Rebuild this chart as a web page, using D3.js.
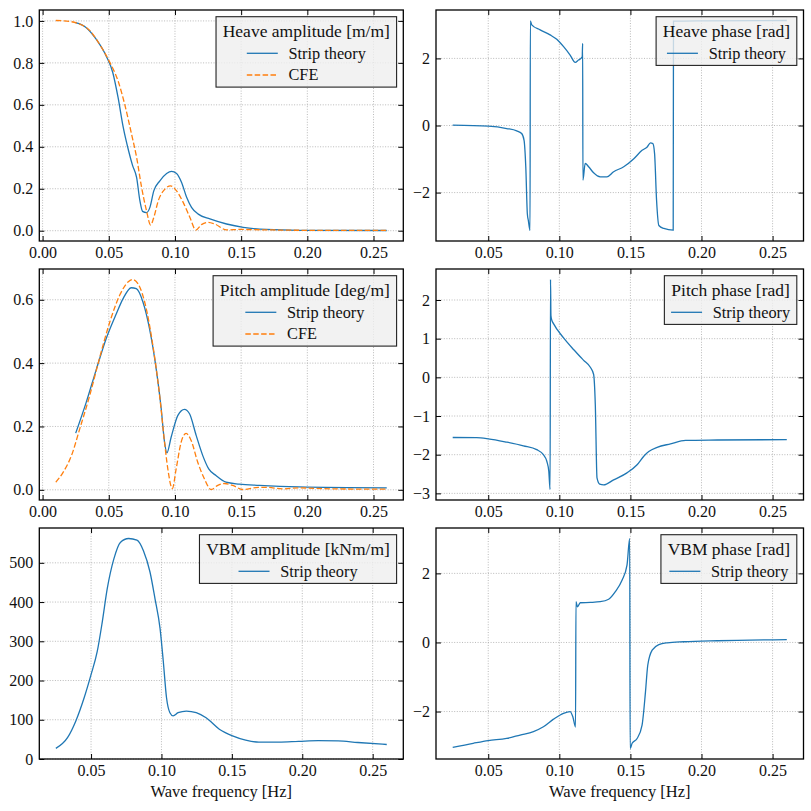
<!DOCTYPE html>
<html>
<head>
<meta charset="utf-8">
<script src="https://cdnjs.cloudflare.com/ajax/libs/d3/7.8.5/d3.min.js"></script>
<style>
body { margin: 0; background: #fff; }
svg { display: block; font-family: "Liberation Serif", "Times New Roman", serif; }
</style>
</head>
<body>
<script>
// ---- data (frequency in Hz) ----
var heaveAmpStripF = [0.025, 0.033, 0.041, 0.048, 0.053, 0.057, 0.061, 0.065, 0.068, 0.071, 0.0735, 0.0755, 0.0785, 0.081, 0.084, 0.0886, 0.0937, 0.0974, 0.1012, 0.105, 0.1088, 0.1125, 0.1176, 0.1264, 0.139, 0.1516, 0.169, 0.194, 0.26];
var heaveAmpStrip  = [0.992, 0.968, 0.908, 0.833, 0.754, 0.635, 0.49, 0.38, 0.31, 0.254, 0.143, 0.092, 0.086, 0.11, 0.19, 0.238, 0.273, 0.283, 0.273, 0.23, 0.159, 0.111, 0.079, 0.056, 0.032, 0.016, 0.006, 0.002, 0.001];
var heaveAmpCfeF = [0.01, 0.015, 0.02, 0.0257, 0.036, 0.043, 0.051, 0.057, 0.062, 0.0672, 0.071, 0.0748, 0.0785, 0.0816, 0.084, 0.0874, 0.0924, 0.0967, 0.1012, 0.1062, 0.1113, 0.1158, 0.12, 0.125, 0.13, 0.139, 0.149, 0.169, 0.2, 0.26];
var heaveAmpCfe  = [1.002, 1.001, 0.998, 0.99, 0.952, 0.889, 0.80, 0.714, 0.603, 0.46, 0.35, 0.206, 0.095, 0.027, 0.063, 0.143, 0.198, 0.214, 0.19, 0.135, 0.063, 0.003, 0.029, 0.04, 0.032, 0.004, 0.006, 0.004, 0.002, 0.002];

var heavePhaseF = [0.025, 0.05, 0.063, 0.07, 0.0735, 0.0752, 0.0764, 0.0775, 0.0782, 0.0794, 0.0796, 0.0806, 0.0865, 0.0935, 0.0982, 0.103, 0.1076, 0.1112, 0.1135, 0.1152, 0.1161, 0.1164, 0.1166, 0.1182, 0.1206, 0.1241, 0.1288, 0.1335, 0.1382, 0.1453, 0.1524, 0.1582, 0.1618, 0.1641, 0.1658, 0.167, 0.1684, 0.17, 0.1735, 0.1801, 0.1803, 0.2, 0.26];
var heavePhase  = [0.01, -0.02, -0.09, -0.16, -0.24, -0.44, -1.23, -2.63, -2.83, -3.13, 3.12, 3.0, 2.85, 2.7, 2.57, 2.35, 2.1, 1.88, 1.95, 2.0, 2.05, 2.45, -1.63, -1.13, -1.23, -1.41, -1.53, -1.53, -1.38, -1.23, -0.99, -0.74, -0.64, -0.52, -0.54, -0.84, -2.23, -2.98, -3.07, -3.12, 3.11, 3.12, 3.13];

var pitchAmpStripF = [0.025, 0.033, 0.0407, 0.048, 0.0557, 0.0607, 0.067, 0.0708, 0.0758, 0.0808, 0.0858, 0.0896, 0.0921, 0.0939, 0.0971, 0.1022, 0.1072, 0.111, 0.116, 0.121, 0.1255, 0.131, 0.1386, 0.1486, 0.1637, 0.1938, 0.26];
var pitchAmpStrip  = [0.179, 0.277, 0.382, 0.477, 0.556, 0.603, 0.638, 0.635, 0.593, 0.508, 0.382, 0.256, 0.151, 0.117, 0.166, 0.235, 0.254, 0.24, 0.172, 0.108, 0.066, 0.045, 0.024, 0.018, 0.014, 0.009, 0.006];
var pitchAmpCfeF = [0.01, 0.0156, 0.0218, 0.0281, 0.0356, 0.0432, 0.0507, 0.0582, 0.0645, 0.0678, 0.072, 0.0783, 0.0833, 0.0884, 0.0921, 0.0946, 0.098, 0.1009, 0.1047, 0.1084, 0.1122, 0.1172, 0.1222, 0.1273, 0.1323, 0.1373, 0.1436, 0.1511, 0.1611, 0.1687, 0.1812, 0.1938, 0.2189, 0.26];
var pitchAmpCfe  = [0.024, 0.056, 0.108, 0.193, 0.298, 0.419, 0.529, 0.614, 0.656, 0.664, 0.651, 0.572, 0.456, 0.298, 0.151, 0.066, 0.004, 0.066, 0.151, 0.178, 0.156, 0.087, 0.035, 0.001, 0.014, 0.02, 0.014, 0.001, 0.007, 0.008, 0.003, 0.006, 0.003, 0.002];

var pitchPhaseF = [0.025, 0.0418, 0.05, 0.0629, 0.0747, 0.0841, 0.0888, 0.0912, 0.0926, 0.0935, 0.0938, 0.0941, 0.0947, 0.0959, 0.103, 0.11, 0.1171, 0.1218, 0.1241, 0.1253, 0.1265, 0.1284, 0.1312, 0.1382, 0.1476, 0.1547, 0.1594, 0.1629, 0.1688, 0.1782, 0.1888, 0.2112, 0.26];
var pitchPhase  = [-1.555, -1.56, -1.59, -1.675, -1.77, -1.87, -2.0, -2.17, -2.43, -2.9, 2.53, 1.6, 1.48, 1.39, 1.02, 0.72, 0.44, 0.26, 0.08, -0.7, -2.6, -2.76, -2.78, -2.65, -2.47, -2.26, -2.04, -1.92, -1.81, -1.72, -1.63, -1.62, -1.61];

var vbmAmpF = [0.025, 0.0334, 0.0392, 0.0451, 0.05, 0.0544, 0.058, 0.0615, 0.0662, 0.0708, 0.0767, 0.0826, 0.0872, 0.0919, 0.0954, 0.099, 0.1013, 0.1036, 0.106, 0.1083, 0.1118, 0.1177, 0.1247, 0.1317, 0.1411, 0.1505, 0.1598, 0.1692, 0.1833, 0.1973, 0.2114, 0.2254, 0.2395, 0.26];
var vbmAmp  = [27, 55, 97, 156, 215, 274, 350, 434, 510, 552, 562, 558, 531, 476, 409, 333, 249, 156, 118, 110, 118, 122, 118, 105, 76, 59, 48, 43, 43, 45, 47, 46, 42, 37];

var vbmPhaseF = [0.025, 0.0394, 0.05, 0.0629, 0.0724, 0.0818, 0.0888, 0.0959, 0.1029, 0.1076, 0.1095, 0.1114, 0.1117, 0.1128, 0.1147, 0.1218, 0.1288, 0.1347, 0.1394, 0.1441, 0.1476, 0.1495, 0.1498, 0.1512, 0.1547, 0.1582, 0.1606, 0.1622, 0.1653, 0.17, 0.1759, 0.1876, 0.2112, 0.26];
var vbmPhase  = [-3.04, -2.92, -2.84, -2.78, -2.68, -2.58, -2.44, -2.22, -2.05, -2.0, -2.15, -2.45, 1.18, 1.03, 1.15, 1.16, 1.18, 1.25, 1.47, 1.8, 2.24, 3.01, -3.07, -2.92, -2.78, -2.39, -1.43, -0.66, -0.22, -0.06, -0.01, 0.02, 0.05, 0.08];

// tick values
var xTicksWide = [0, 0.05, 0.1, 0.15, 0.2, 0.25];
var xTicksNarrow = [0.05, 0.1, 0.15, 0.2, 0.25];
var heaveAmpTicks = [0, 0.2, 0.4, 0.6, 0.8, 1.0];
var pitchAmpTicks = [0, 0.2, 0.4, 0.6];
var vbmAmpTicks = [0, 100, 200, 300, 400, 500];
var phaseTicks2 = [-2, 0, 2];
var pitchPhaseTicks = [-3, -2, -1, 0, 1, 2];

var blue = '#1f77b4', orange = '#ff7f0e';

var svg = d3.select('body').append('svg:svg')
    .attr('width', 811)
    .attr('height', 811);

var cols = [[39.3, 403.3], [436, 803.5]];
var rows = [[10, 241], [269, 500], [528, 759]];

function padExtent(lo, hi) {
    var d = (hi - lo) * 0.05;
    return [lo - d, hi + d];
}

function drawPanel(o) {
    var x0 = cols[o.col][0], x1 = cols[o.col][1];
    var y0 = rows[o.row][0], y1 = rows[o.row][1];
    var allX = [], allY = [];
    o.series.forEach(function (s) { allX = allX.concat(s.x); allY = allY.concat(s.y); });
    var xd = padExtent(d3.min(allX), d3.max(allX));
    var yd = padExtent(d3.min(allY), d3.max(allY));
    if (o.yMin != null) yd[0] = o.yMin;

    var x = d3.scaleLinear().domain(xd).range([x0, x1]);
    var y = d3.scaleLinear().domain(yd).range([y1, y0]);
    var g = svg.append('g');

    // dotted grid
    g.selectAll('.gx').data(o.xTicks).enter().append('line')
        .attr('x1', function (d) { return x(d); }).attr('x2', function (d) { return x(d); })
        .attr('y1', y0).attr('y2', y1)
        .attr('stroke', '#a8a8a8').attr('stroke-width', 0.8).attr('stroke-dasharray', '1,1.6');
    g.selectAll('.gy').data(o.yTicks).enter().append('line')
        .attr('y1', function (d) { return y(d); }).attr('y2', function (d) { return y(d); })
        .attr('x1', x0).attr('x2', x1)
        .attr('stroke', '#a8a8a8').attr('stroke-width', 0.8).attr('stroke-dasharray', '1,1.6');

    var line = d3.line()
        .x(function (d) { return x(d[0]); })
        .y(function (d) { return y(d[1]); })
        .curve(d3.curveMonotoneX);

    o.series.forEach(function (s) {
        g.append('path')
            .datum(d3.zip(s.x, s.y))
            .attr('d', line)
            .attr('fill', 'none')
            .attr('stroke', s.color)
            .attr('stroke-width', 1.3)
            .attr('stroke-dasharray', s.dash || null);
    });

    // axes, ticks pointing in on all four sides
    var xf = d3.format('.2f');
    var bottom = g.append('g').attr('transform', 'translate(0,' + y1 + ')')
        .call(d3.axisBottom(x).tickValues(o.xTicks).tickFormat(xf).tickSizeInner(-5).tickSizeOuter(0).tickPadding(6));
    var left = g.append('g').attr('transform', 'translate(' + x0 + ',0)')
        .call(d3.axisLeft(y).tickValues(o.yTicks).tickFormat(o.yFormat).tickSizeInner(-5).tickSizeOuter(0).tickPadding(6));
    var top = g.append('g').attr('transform', 'translate(0,' + y0 + ')')
        .call(d3.axisTop(x).tickValues(o.xTicks).tickFormat('').tickSizeInner(-5).tickSizeOuter(0));
    var right = g.append('g').attr('transform', 'translate(' + x1 + ',0)')
        .call(d3.axisRight(y).tickValues(o.yTicks).tickFormat('').tickSizeInner(-5).tickSizeOuter(0));
    [bottom, left, top, right].forEach(function (a) {
        a.select('.domain').remove();
        a.attr('font-family', null).attr('font-size', null);
        a.selectAll('line').attr('stroke', '#000').attr('stroke-width', 1);
        a.selectAll('text').attr('font-size', '16px').attr('fill', '#111');
    });

    g.append('rect')
        .attr('x', x0).attr('y', y0)
        .attr('width', x1 - x0).attr('height', y1 - y0)
        .attr('fill', 'none').attr('stroke', '#000').attr('stroke-width', 1.3);

    if (o.xLabel) {
        g.append('text')
            .attr('x', (x0 + x1) / 2).attr('y', 797)
            .attr('text-anchor', 'middle')
            .attr('font-size', '16.5px').attr('fill', '#111')
            .text(o.xLabel);
    }

    // legend, upper right
    var pad = 6.7, hLen = 31, hGap = 10.7;
    var lg = g.append('g');
    var box = lg.append('rect');
    var title = lg.append('text').attr('font-size', '17.5px').attr('fill', '#111')
        .attr('text-anchor', 'middle').text(o.title);
    var titleW = title.node().getComputedTextLength();
    var labels = o.series.map(function (s) {
        return lg.append('text').attr('font-size', '16.3px').attr('fill', '#111').text(s.label);
    });
    var blockW = hLen + hGap + d3.max(labels, function (t) { return t.node().getComputedTextLength(); });
    var contentW = Math.max(titleW, blockW);
    var boxW = contentW + 2 * pad;
    var bx = x1 - 6.7 - boxW, by = y0 + 6.7;
    var boxH = 27 + 21.7 * o.series.length;
    box.attr('x', bx).attr('y', by).attr('width', boxW).attr('height', boxH)
        .attr('fill', '#efefef').attr('fill-opacity', 0.8)
        .attr('stroke', '#222').attr('stroke-width', 1.1);
    title.attr('x', bx + boxW / 2).attr('y', by + 20.5);
    var hx = bx + pad + (contentW - blockW) / 2;
    o.series.forEach(function (s, i) {
        var cy = by + 36.6 + 21.7 * i;
        lg.append('line')
            .attr('x1', hx).attr('x2', hx + hLen).attr('y1', cy).attr('y2', cy)
            .attr('stroke', s.color).attr('stroke-width', 1.3)
            .attr('stroke-dasharray', s.dash || null);
        labels[i].attr('x', hx + hLen + hGap).attr('y', cy + 5.2);
    });
}

var f1 = d3.format('.1f'), f0 = d3.format('d');
var dash = '5.5,2.4';

drawPanel({ col: 0, row: 0, title: 'Heave amplitude [m/m]', xTicks: xTicksWide, yTicks: heaveAmpTicks, yFormat: f1,
    series: [{ x: heaveAmpStripF, y: heaveAmpStrip, color: blue, label: 'Strip theory' },
             { x: heaveAmpCfeF, y: heaveAmpCfe, color: orange, dash: dash, label: 'CFE' }] });
drawPanel({ col: 1, row: 0, title: 'Heave phase [rad]', xTicks: xTicksNarrow, yTicks: phaseTicks2, yFormat: f0,
    series: [{ x: heavePhaseF, y: heavePhase, color: blue, label: 'Strip theory' }] });
drawPanel({ col: 0, row: 1, title: 'Pitch amplitude [deg/m]', xTicks: xTicksWide, yTicks: pitchAmpTicks, yFormat: f1,
    series: [{ x: pitchAmpStripF, y: pitchAmpStrip, color: blue, label: 'Strip theory' },
             { x: pitchAmpCfeF, y: pitchAmpCfe, color: orange, dash: dash, label: 'CFE' }] });
drawPanel({ col: 1, row: 1, title: 'Pitch phase [rad]', xTicks: xTicksNarrow, yTicks: pitchPhaseTicks, yFormat: f0,
    series: [{ x: pitchPhaseF, y: pitchPhase, color: blue, label: 'Strip theory' }] });
drawPanel({ col: 0, row: 2, title: 'VBM amplitude [kNm/m]', xTicks: xTicksNarrow, yTicks: vbmAmpTicks, yFormat: f0, yMin: 0,
    xLabel: 'Wave frequency [Hz]',
    series: [{ x: vbmAmpF, y: vbmAmp, color: blue, label: 'Strip theory' }] });
drawPanel({ col: 1, row: 2, title: 'VBM phase [rad]', xTicks: xTicksNarrow, yTicks: phaseTicks2, yFormat: f0,
    xLabel: 'Wave frequency [Hz]',
    series: [{ x: vbmPhaseF, y: vbmPhase, color: blue, label: 'Strip theory' }] });
</script>
</body>
</html>
